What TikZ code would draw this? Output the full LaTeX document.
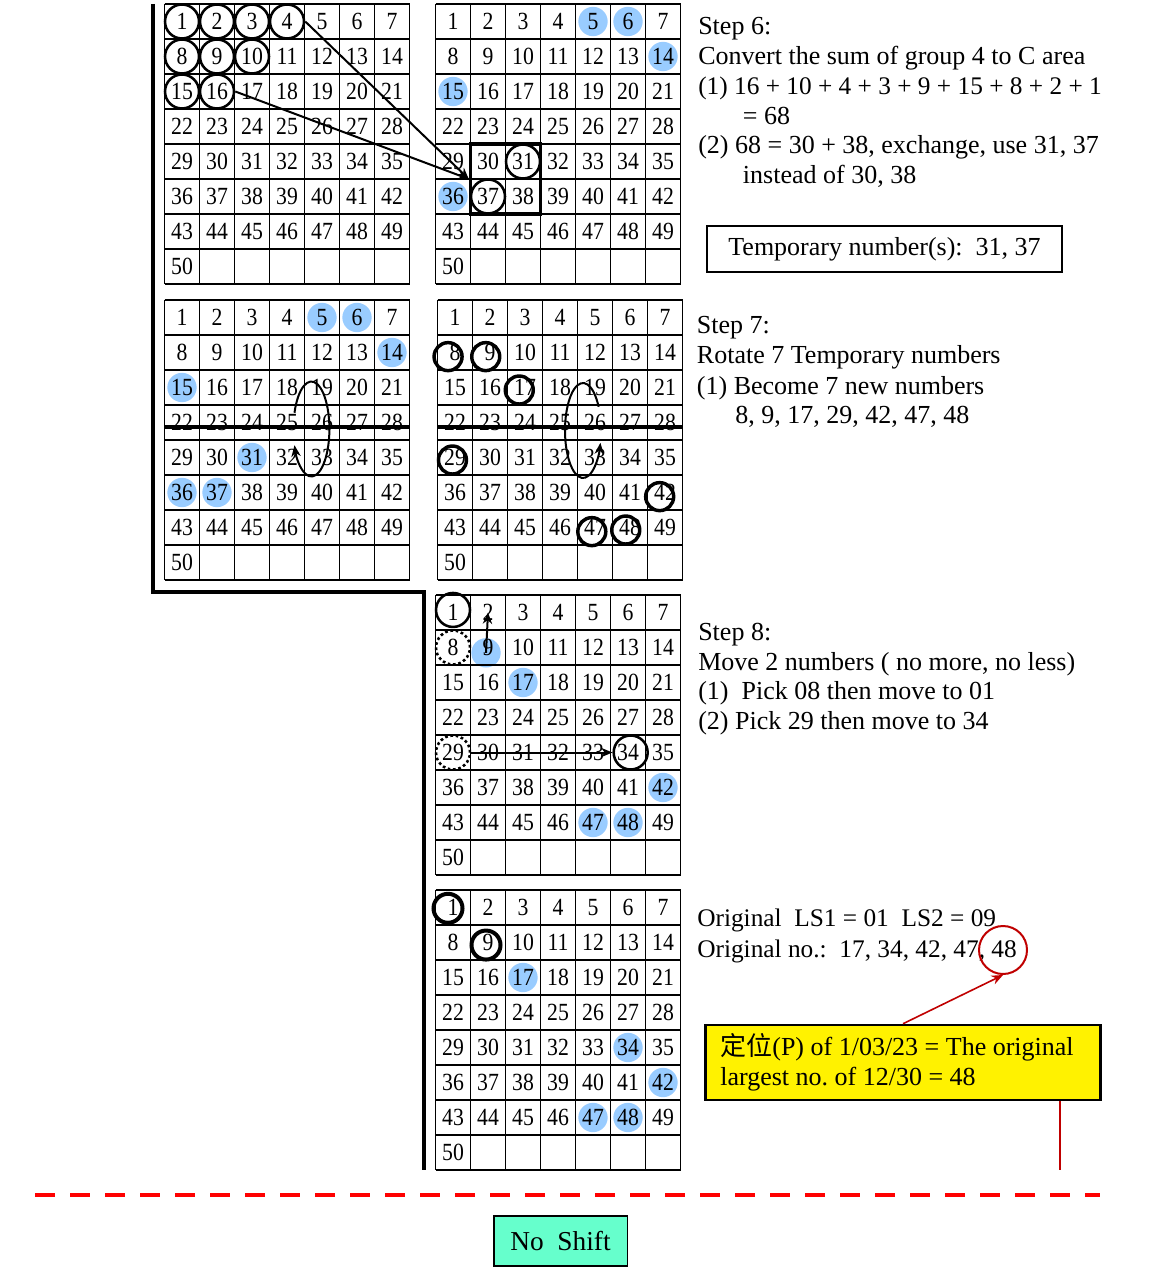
\documentclass[tikz,border=0pt]{standalone}
\usepackage{fontspec}
\setmainfont{Liberation Serif}
\newfontfamily\gridfont[FakeStretch=0.88]{Liberation Serif}
\newfontfamily\cjkfont{Noto Sans CJK SC}
\usepackage{xcolor}
\usetikzlibrary{arrows.meta,backgrounds}
\definecolor{dotblue}{HTML}{99CCFF}
\definecolor{aquagreen}{HTML}{66FFCC}
\definecolor{darkred}{HTML}{C00000}
\frenchspacing

\begin{document}
\begin{tikzpicture}[x=0.75pt,y=-0.75pt,>={Stealth[length=8.5pt,width=7pt]},
  cell line/.style={line width=1pt},
  num/.style={inner sep=0pt,font={\fontsize{18.5}{20}\gridfont}},
  txt/.style={anchor=base west,inner sep=0pt,font={\fontsize{19.5}{22.5}\selectfont}},
  blue dot/.style={circle,fill=dotblue,minimum size=22pt,inner sep=0pt},
  ring/.style={circle,draw,line width=1.9pt,minimum size=25.5pt,inner sep=0pt},
  bold ring/.style={ring,line width=2.6pt,minimum size=21pt},
  dot ring/.style={ring,dash pattern=on 2pt off 2pt},
  arr/.style={->,line width=1.5pt},
  wall/.style={line width=3pt},
  strike/.style={line width=2.4pt},
  box/.style={draw,font={\fontsize{19.5}{22.5}\selectfont}}]

  \useasboundingbox (0,0) rectangle (1156,1276);
  \begin{scope}[on background layer]
    \fill[white] (0,0) rectangle (1156,1276);
  \end{scope}

  % the six number grids
  \foreach \g/\gx/\gy in {a/164.5/4,b/435.5/4,c/164.5/300,d/437.5/300,e/435.5/595,f/435.5/890}{
    \foreach \k in {0,...,7} \draw[cell line] (\gx+35*\k,\gy) -- (\gx+35*\k,\gy+280);
    \foreach \k in {0,...,8} \draw[cell line] (\gx,\gy+35*\k) -- (\gx+245,\gy+35*\k);
    \foreach \n in {1,...,50}{
      \pgfmathtruncatemacro\cc{mod(\n-1,7)}
      \pgfmathtruncatemacro\rr{(\n-1)/7}
      \node[num] (\g-\n) at (\gx+17.5+35*\cc,\gy+17.5+35*\rr) {\n};
    }
  }

  \begin{scope}[on background layer]
    \foreach \g/\n in {b/5,b/6,b/14,b/15,b/36,c/5,c/6,c/14,c/15,c/31,c/36,c/37,
                       e/17,e/42,e/47,e/48,f/17,f/34,f/42,f/47,f/48}
      \node[blue dot] (dot-\g\n) at (\g-\n) {};
    \node[blue dot,xshift=-1.5pt,yshift=-4pt] (dot-e9) at (e-9) {};
  \end{scope}

  \draw[wall] (153,4) -- (153,592) -- (424,592) -- (424,1170);

  % step 6
  \foreach \n in {1,2,3,4,8,9,10,15,16} \node[ring] (ring-a\n) at (a-\n) {};
  \node[ring] (ring-b31) at (b-31) {};
  \node[ring] (ring-b37) at (b-37) {};
  \node[draw,line width=2.6pt,minimum size=52.5pt,inner sep=0pt] (swap) at (505.5,179) {};
  \draw[arr] (ring-a4.east) -- (swap.west);
  \draw[arr] (ring-a16.east) -- (swap.west);

  % step 7
  \draw[strike] (164.5,427) -- (409.5,427);
  \draw[strike] (437.5,427) -- (682.5,427);
  \draw[arr] (311.4,429) ++(200:18 and 47.5) arc[start angle=200,end angle=520,x radius=18,y radius=47.5];
  \draw[arr] (583,430.5) ++(330:18 and 47.5) arc[start angle=330,end angle=15,x radius=18,y radius=47.5];
  \foreach \n/\dx/\dy in {8/-5.2/-3.1,9/-3.2/-3.1,17/-4.3/-1.9,29/-1.9/-1.9,42/-4/-3.1,47/-2.4/-3.1,48/-3.2/-1.9}
    \node[bold ring,xshift=\dx pt,yshift=\dy pt] (ring-d\n) at (d-\n) {};

  % step 8
  \node[ring,yshift=1.9pt] (ring-e1) at (e-1) {};
  \node[dot ring] (ring-e8) at (e-8) {};
  \node[dot ring] (ring-e29) at (e-29) {};
  \node[ring,xshift=2pt] (ring-e34) at (e-34) {};
  \draw[arr] (dot-e9.center) -- (e-2.center);
  \draw[arr] (ring-e29.east) -- (ring-e34.west);

  % result
  \node[bold ring,line width=3pt,minimum size=21.75pt,xshift=-3.75pt,yshift=-0.6pt] (ring-f1) at (f-1) {};
  \node[bold ring,line width=3pt,minimum size=21.75pt,xshift=-1.5pt,yshift=-1.9pt] (ring-f9) at (f-9) {};

  % texts on the right
  \foreach \y/\x/\words [count=\i] in {35/698/{Step 6:},65/698/{Convert the sum of group 4 to C area},
      95/698/{\fontsize{19}{22.5}\selectfont(1) 16 + 10 + 4 + 3 + 9 + 15 + 8 + 2 + 1},124.5/742.7/{= 68},
      154/698/{(2) 68 = 30 + 38, exchange, use 31, 37},184/742.7/{instead of 30, 38}}
    \node[txt] (six\i) at (\x,\y) {\words};
  \node[box,line width=1.5pt,minimum width=266.7pt,minimum height=34.3pt] (temp) at (884.5,249) {Temporary number(s):~ 31, 37};

  \foreach \y/\x/\words [count=\i] in {334/696.7/{Step 7:},363.5/696.7/{Rotate 7 Temporary numbers},
      394/696.7/{(1) Become 7 new numbers},423.5/735/{8, 9, 17, 29, 42, 47, 48}}
    \node[txt] (seven\i) at (\x,\y) {\words};

  \foreach \y/\x/\words [count=\i] in {640/698/{Step 8:},670/698/{Move 2 numbers ( no more, no less)},
      699.5/698/{(1)~ Pick 08 then move to 01},729/698/{(2) Pick 29 then move to 34}}
    \node[txt] (eight\i) at (\x,\y) {\words};

  \node[txt,font={\fontsize{19}{22.5}\selectfont}] (orig1) at (697,926.7) {Original~ LS1 = 01~ LS2 = 09};
  \node[txt,font={\fontsize{19}{22.5}\selectfont}] (orig2) at (697,957.3) {Original no.:~ 17, 34, 42, 47, 48};

  \node[circle,draw=darkred,line width=1.5pt,minimum size=36pt,inner sep=0pt] (big48) at (1003,950) {};
  \node[box,line width=1.9pt,fill=yellow,minimum height=56.25pt,text width=274pt,inner xsep=11.25pt,align=flush left]
    (note) at (903,1062.5) {{\cjkfont 定位}(P) of 1/03/23 = The original\\largest no. of 12/30 = 48};
  \draw[->,darkred,line width=1.2pt] (note.north) -- (big48.south);
  \coordinate (drop) at (1060,1170);
  \draw[darkred,line width=1.2pt] (note.south -| drop) -- (drop);

  \draw[red,line width=3pt,dash pattern=on 15pt off 11.25pt] (35,1195) -- (1100,1195);
  \node[box,line width=1pt,fill=aquagreen,minimum width=100pt,minimum height=37.5pt,font={\fontsize{20.5}{22}\selectfont}] (noshift) at (560.5,1241) {No~ Shift};
\end{tikzpicture}
\end{document}
